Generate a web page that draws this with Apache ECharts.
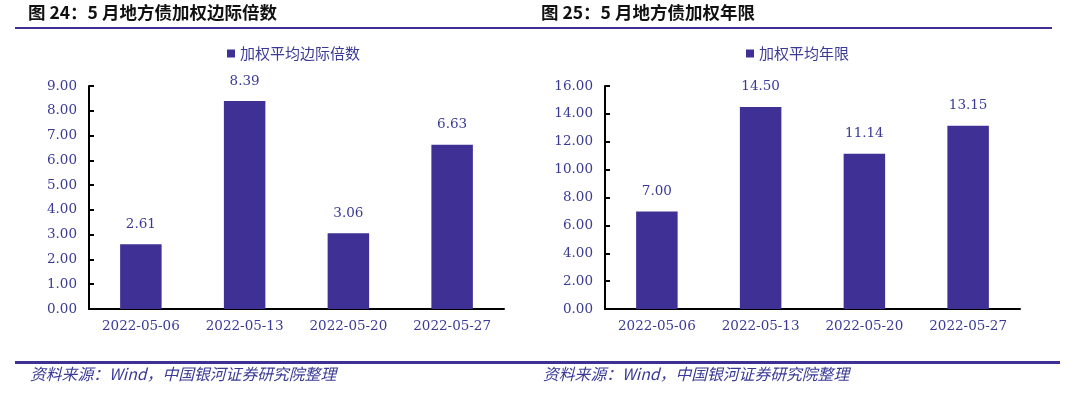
<!DOCTYPE html>
<html><head><meta charset="utf-8">
<script src="https://cdn.jsdelivr.net/npm/echarts@6/dist/echarts.min.js"></script>
<style>html,body{margin:0;padding:0;background:#fff}#c{width:1080px;height:393px}</style>
</head><body><div id="c"></div>
<script>
const categories = ['2022-05-06','2022-05-13','2022-05-20','2022-05-27'];
const leftName = '加权平均边际倍数';
const leftValues = [2.61, 8.39, 3.06, 6.63];
const rightName = '加权平均年限';
const rightValues = [7.00, 14.50, 11.14, 13.15];
const leftTitle = '图 24：5 月地方债加权边际倍数';
const rightTitle = '图 25：5 月地方债加权年限';
const sourceText = '资料来源：Wind，中国银河证券研究院整理';

const BAR = '#3f3096';
const TXT = '#3a3a96';
const SERIF = '"DejaVu Serif","Liberation Serif",serif';
const fmt = v => Number(v).toFixed(2);

const chart = echarts.init(document.getElementById('c'));
function xAx(i){return {type:'category',gridIndex:i,data:categories,
  axisLine:{lineStyle:{color:'#000',width:2}},
  axisTick:{inside:true,length:5,lineStyle:{color:'#000',width:2}},
  axisLabel:{color:TXT,fontFamily:SERIF,fontSize:13.5,margin:10}};}
function yAx(i,max,interval){return {type:'value',gridIndex:i,min:0,max:max,interval:interval,
  axisLine:{show:true,lineStyle:{color:'#000',width:2}},
  axisTick:{show:true,inside:true,length:5,lineStyle:{color:'#000',width:2}},
  splitLine:{show:false},
  axisLabel:{color:TXT,fontFamily:SERIF,fontSize:13.5,margin:12,formatter:fmt}};}
function ser(i,name,data){return {type:'bar',name:name,xAxisIndex:i,yAxisIndex:i,data:data,barWidth:'40%',
  itemStyle:{color:BAR},
  label:{show:true,position:'top',distance:13,color:TXT,fontFamily:SERIF,fontSize:13.5,formatter:p=>fmt(p.value)}};}
function legend(name,left){return {data:[name],left:left,top:41,icon:'rect',itemWidth:8,itemHeight:8,itemGap:3,
  textStyle:{color:TXT,fontSize:15,fontFamily:'"Noto Sans CJK SC",sans-serif'}};}

chart.setOption({
  animation:false,
  grid:[{left:89,top:86,width:415,height:223},{left:605,top:86,width:415,height:223}],
  xAxis:[xAx(0),xAx(1)],
  yAxis:[yAx(0,9,1),yAx(1,16,2)],
  legend:[legend(leftName,222),legend(rightName,741)],
  series:[ser(0,leftName,leftValues),ser(1,rightName,rightValues)],
  graphic:[
    {type:'text',left:28,top:4,style:{text:leftTitle,fill:'#111',font:'bold 17.5px "Noto Sans CJK SC",sans-serif'}},
    {type:'text',left:541,top:4,style:{text:rightTitle,fill:'#111',font:'bold 17.5px "Noto Sans CJK SC",sans-serif'}},
    {type:'rect',shape:{x:15,y:27,width:525,height:2},style:{fill:BAR}},
    {type:'rect',shape:{x:540,y:27,width:512,height:2},style:{fill:BAR}},
    {type:'rect',shape:{x:15,y:361,width:525,height:3},style:{fill:BAR}},
    {type:'rect',shape:{x:540,y:361,width:520,height:3},style:{fill:BAR}},
    {type:'text',left:30,top:366,style:{text:sourceText,fill:TXT,font:'italic 15.8px "Noto Sans CJK SC",sans-serif'}},
    {type:'text',left:543,top:366,style:{text:sourceText,fill:TXT,font:'italic 15.8px "Noto Sans CJK SC",sans-serif'}}
  ]
});
</script></body></html>
